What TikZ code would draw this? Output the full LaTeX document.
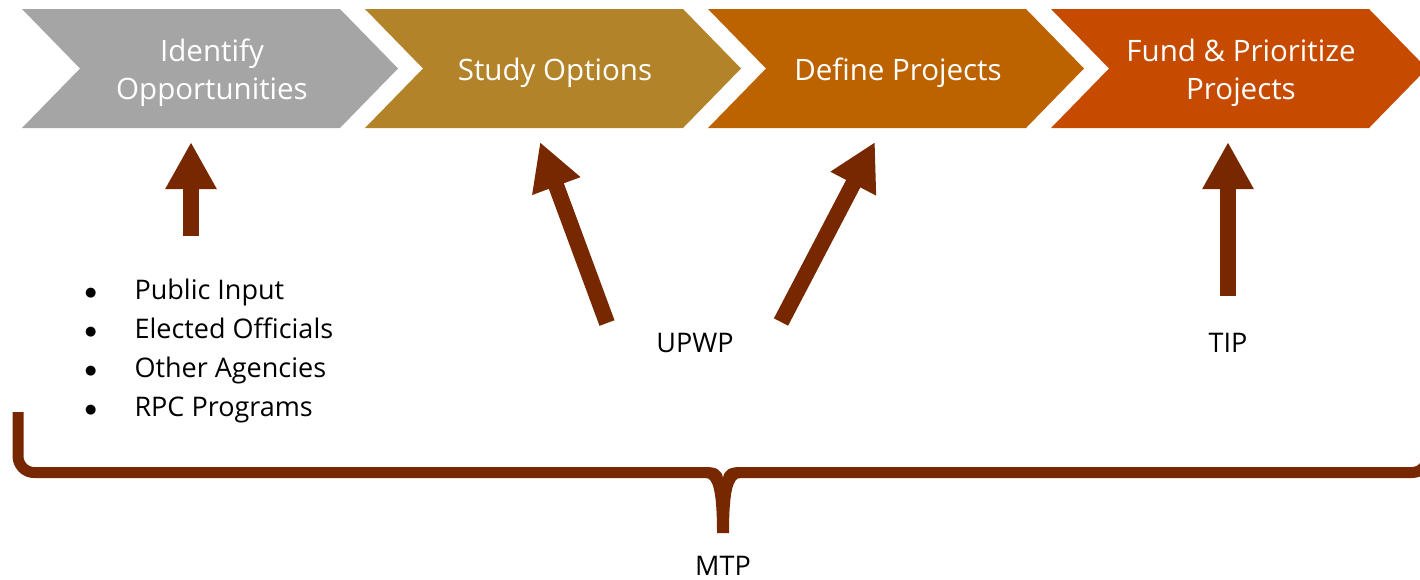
\documentclass[tikz,border=0pt]{standalone}
\usepackage{fontspec}
\setmainfont{Open Sans}
\newfontfamily\dejavu{DejaVu Sans}
\usetikzlibrary{arrows.meta}
\definecolor{cgray}{HTML}{A5A5A5}
\definecolor{cgold}{HTML}{B38329}
\definecolor{corange}{HTML}{BC6300}
\definecolor{cred}{HTML}{C64B00}
\definecolor{abrown}{HTML}{772800}
\newcommand{\mybul}{\raisebox{2.5pt}{\dejavu\fontsize{13}{13}\selectfont ●}}
\tikzset{
  chevtext/.style={text=white, align=center, font=\fontsize{29.5}{38}\selectfont, inner sep=0pt},
  labeltext/.style={text=black, font=\fontsize{27}{39}\selectfont, inner sep=0pt},
  blockarrow/.style={draw=abrown, line width=16pt, -{Triangle[width=48pt,length=47pt]}},
  bracestroke/.style={draw=abrown, line width=11pt},
}
\begin{document}
\begin{tikzpicture}[x=1pt,y=-1pt]
\useasboundingbox (0,0) rectangle (1420,579);
% chevrons
\fill[cgray]   (22,9) -- (340,9) -- (398,68.5) -- (340,128) -- (22,128) -- (80,68.5) -- cycle;
\fill[cgold]   (365,9) -- (683,9) -- (741,68.5) -- (683,128) -- (365,128) -- (423,68.5) -- cycle;
\fill[corange] (708,9) -- (1026,9) -- (1084,68.5) -- (1026,128) -- (708,128) -- (766,68.5) -- cycle;
\fill[cred]    (1051,9) -- (1369,9) -- (1427,68.5) -- (1369,128) -- (1051,128) -- (1109,68.5) -- cycle;
\node[chevtext] (c1) at (212,73) {Identify\\Opportunities};
\node[chevtext] (c2) at (555,73) {Study Options};
\node[chevtext] (c3) at (898,73) {Define Projects};
\node[chevtext] (c4) at (1241,73) {Fund \& Prioritize\\Projects};
% labels
\node[labeltext, anchor=west] (list) at (85,350) {\begin{tabular}{@{}l@{\hspace{38pt}}l@{}}\mybul&Public Input\\\mybul&Elected Officials\\\mybul&Other Agencies\\\mybul&RPC Programs\end{tabular}};
\node[labeltext] (upwp) at (695,343) {UPWP};
\node[labeltext] (tip) at (1228,343) {TIP};
\node[labeltext] (mtp) at (723,566) {MTP};
% arrow coordinates
\coordinate (a1s) at (191,236);
\coordinate (a1e) at (191,142);
\coordinate (a2s) at (607,323);
\coordinate (a2e) at (540,142);
\coordinate (a3s) at (781,322);
\coordinate (a3e) at (875,142);
\coordinate (a4s) at (1228,296);
\coordinate (a4e) at (1228,142);
\draw[blockarrow] (a1s) -- (a1e);
\draw[blockarrow] (a2s) -- (a2e);
\draw[blockarrow] (a3s) -- (a3e);
\draw[blockarrow] (a4s) -- (a4e);
% brace
\coordinate (bl) at (18,412);
\coordinate (br) at (1428,412);
\coordinate (bm) at (723,533);
\draw[bracestroke] (bl) -- (18,456) to[out=-90,in=180] (34,472.5) -- (707,472.5);
\draw[bracestroke] (br) -- (1428,456) to[out=-90,in=0] (1412,472.5) -- (739,472.5);
\fill[abrown] (706,467) .. controls (716,467) and (722,470) .. (723,478)
  .. controls (724,470) and (730,467) .. (740,467) -- (740,478)
  .. controls (733,478) and (729,492) .. (729,533) -- (717,533)
  .. controls (717,492) and (713,478) .. (706,478) -- cycle;
\end{tikzpicture}
\end{document}
